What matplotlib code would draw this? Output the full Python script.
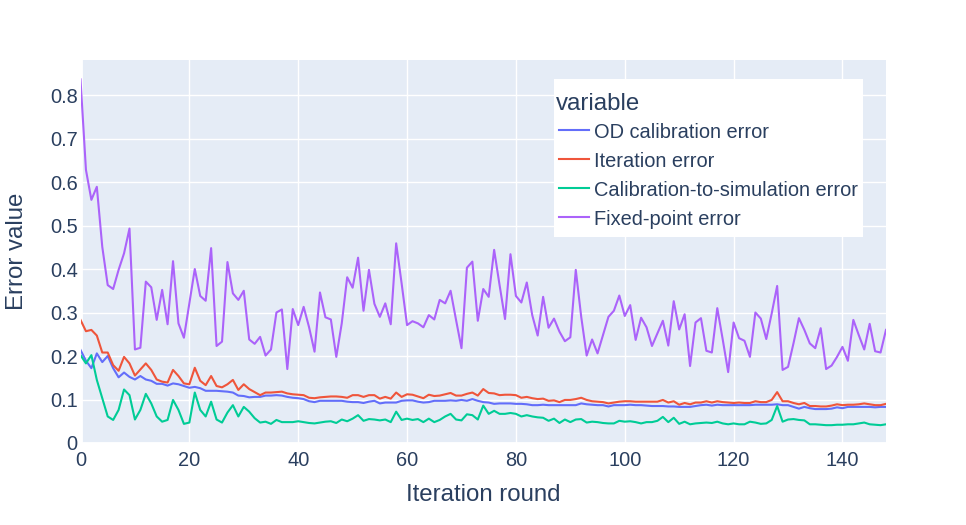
import numpy as np
import matplotlib
matplotlib.use("Agg")
import matplotlib.pyplot as plt
from matplotlib.patches import Rectangle
from matplotlib.lines import Line2D

plt.rcParams['font.family'] = ['Liberation Sans', 'DejaVu Sans']

iterations = np.arange(149)

od_calibration = [
    0.214, 0.189, 0.172, 0.206, 0.186, 0.200, 0.172, 0.151, 0.162, 0.152,
    0.146, 0.154, 0.146, 0.143, 0.136, 0.136, 0.132, 0.137, 0.135, 0.131,
    0.127, 0.129, 0.126, 0.120, 0.120, 0.120, 0.119, 0.118, 0.116, 0.109,
    0.108, 0.105, 0.106, 0.106, 0.109, 0.109, 0.110, 0.109, 0.106, 0.104,
    0.103, 0.101, 0.096, 0.094, 0.097, 0.097, 0.097, 0.097, 0.097, 0.095,
    0.094, 0.094, 0.092, 0.095, 0.097, 0.091, 0.093, 0.093, 0.093, 0.097,
    0.098, 0.098, 0.095, 0.093, 0.094, 0.097, 0.097, 0.097, 0.098, 0.097,
    0.099, 0.097, 0.101, 0.097, 0.094, 0.093, 0.090, 0.091, 0.091, 0.091,
    0.090, 0.090, 0.089, 0.087, 0.087, 0.088, 0.087, 0.087, 0.087, 0.087,
    0.087, 0.087, 0.091, 0.089, 0.088, 0.087, 0.087, 0.084, 0.087, 0.087,
    0.087, 0.088, 0.087, 0.087, 0.086, 0.085, 0.085, 0.085, 0.084, 0.084,
    0.083, 0.083, 0.083, 0.085, 0.087, 0.088, 0.086, 0.088, 0.087, 0.087,
    0.087, 0.087, 0.087, 0.087, 0.088, 0.088, 0.088, 0.088, 0.089, 0.087,
    0.087, 0.083, 0.079, 0.083, 0.080, 0.078, 0.078, 0.078, 0.079, 0.082,
    0.080, 0.083, 0.083, 0.083, 0.083, 0.083, 0.082, 0.083, 0.083,
]

iteration_err = [
    0.283, 0.257, 0.260, 0.247, 0.208, 0.208, 0.179, 0.166, 0.198, 0.183,
    0.155, 0.169, 0.183, 0.168, 0.146, 0.141, 0.139, 0.168, 0.154, 0.137,
    0.135, 0.173, 0.143, 0.133, 0.154, 0.131, 0.128, 0.135, 0.145, 0.122,
    0.135, 0.124, 0.117, 0.110, 0.116, 0.116, 0.117, 0.118, 0.114, 0.112,
    0.111, 0.110, 0.104, 0.103, 0.105, 0.106, 0.107, 0.107, 0.106, 0.104,
    0.110, 0.110, 0.106, 0.110, 0.110, 0.102, 0.106, 0.102, 0.116, 0.106,
    0.112, 0.111, 0.107, 0.103, 0.111, 0.108, 0.109, 0.112, 0.115, 0.109,
    0.109, 0.113, 0.116, 0.109, 0.124, 0.115, 0.114, 0.110, 0.111, 0.111,
    0.110, 0.104, 0.106, 0.103, 0.101, 0.102, 0.097, 0.098, 0.094, 0.099,
    0.099, 0.101, 0.104, 0.099, 0.096, 0.095, 0.094, 0.091, 0.093, 0.095,
    0.096, 0.096, 0.095, 0.095, 0.095, 0.095, 0.095, 0.099, 0.093, 0.096,
    0.088, 0.092, 0.089, 0.093, 0.093, 0.096, 0.093, 0.096, 0.094, 0.093,
    0.092, 0.093, 0.092, 0.092, 0.096, 0.094, 0.094, 0.099, 0.117, 0.096,
    0.096, 0.092, 0.089, 0.092, 0.085, 0.085, 0.084, 0.084, 0.086, 0.089,
    0.087, 0.088, 0.088, 0.089, 0.091, 0.089, 0.087, 0.087, 0.090,
]

cal_to_sim = [
    0.202, 0.183, 0.202, 0.145, 0.103, 0.061, 0.053, 0.076, 0.123, 0.110,
    0.054, 0.076, 0.113, 0.091, 0.061, 0.049, 0.053, 0.099, 0.076, 0.044,
    0.047, 0.116, 0.076, 0.061, 0.095, 0.054, 0.047, 0.070, 0.087, 0.061,
    0.083, 0.072, 0.057, 0.047, 0.049, 0.044, 0.053, 0.048, 0.048, 0.048,
    0.050, 0.048, 0.046, 0.045, 0.047, 0.049, 0.050, 0.046, 0.054, 0.050,
    0.056, 0.064, 0.051, 0.055, 0.054, 0.052, 0.054, 0.048, 0.072, 0.053,
    0.056, 0.053, 0.055, 0.048, 0.056, 0.048, 0.053, 0.061, 0.067, 0.054,
    0.052, 0.066, 0.064, 0.054, 0.086, 0.067, 0.074, 0.067, 0.067, 0.069,
    0.067, 0.061, 0.064, 0.061, 0.059, 0.058, 0.051, 0.056, 0.046, 0.054,
    0.048, 0.054, 0.055, 0.047, 0.049, 0.048, 0.046, 0.045, 0.045, 0.051,
    0.049, 0.050, 0.048, 0.045, 0.048, 0.048, 0.051, 0.060, 0.048, 0.058,
    0.044, 0.049, 0.043, 0.045, 0.046, 0.047, 0.046, 0.049, 0.045, 0.043,
    0.045, 0.043, 0.043, 0.049, 0.047, 0.044, 0.045, 0.053, 0.085, 0.049,
    0.054, 0.055, 0.053, 0.052, 0.043, 0.043, 0.042, 0.041, 0.041, 0.042,
    0.042, 0.043, 0.043, 0.045, 0.047, 0.043, 0.042, 0.041, 0.043,
]

fixed_point = [
    0.836, 0.628, 0.559, 0.589, 0.451, 0.363, 0.354, 0.398, 0.436, 0.493,
    0.215, 0.219, 0.371, 0.358, 0.283, 0.352, 0.273, 0.418, 0.275, 0.242,
    0.321, 0.400, 0.338, 0.327, 0.448, 0.223, 0.233, 0.416, 0.344, 0.329,
    0.350, 0.238, 0.228, 0.244, 0.201, 0.215, 0.300, 0.307, 0.170, 0.308,
    0.271, 0.313, 0.266, 0.210, 0.346, 0.289, 0.284, 0.198, 0.275, 0.381,
    0.357, 0.426, 0.304, 0.398, 0.320, 0.290, 0.321, 0.273, 0.459, 0.367,
    0.271, 0.280, 0.275, 0.266, 0.294, 0.284, 0.329, 0.321, 0.350, 0.283,
    0.218, 0.403, 0.417, 0.281, 0.354, 0.336, 0.444, 0.363, 0.285, 0.434,
    0.338, 0.323, 0.369, 0.294, 0.247, 0.336, 0.265, 0.286, 0.256, 0.234,
    0.243, 0.398, 0.290, 0.201, 0.238, 0.206, 0.248, 0.290, 0.304, 0.339,
    0.292, 0.317, 0.237, 0.288, 0.266, 0.223, 0.252, 0.281, 0.224, 0.326,
    0.261, 0.296, 0.177, 0.277, 0.287, 0.212, 0.208, 0.310, 0.238, 0.163,
    0.277, 0.241, 0.235, 0.198, 0.300, 0.286, 0.239, 0.298, 0.361, 0.168,
    0.175, 0.229, 0.287, 0.260, 0.229, 0.218, 0.264, 0.170, 0.178, 0.198,
    0.221, 0.189, 0.283, 0.248, 0.215, 0.274, 0.211, 0.208, 0.260,
]

series = [
    ("OD calibration error", od_calibration, "#636EFA"),
    ("Iteration error", iteration_err, "#EF553B"),
    ("Calibration-to-simulation error", cal_to_sim, "#00CC96"),
    ("Fixed-point error", fixed_point, "#AB63FA"),
]

text_col = "#2a3f5f"
W, H = 966, 525

fig = plt.figure(figsize=(9.66, 5.25), dpi=100)
ax = fig.add_axes([80.5 / W, 82 / H, 805.5 / W, 383 / H])
ax.set_facecolor("#E5ECF6")

for name, vals, col in series:
    ax.plot(iterations, vals, color=col, lw=1.5, label=name, solid_joinstyle="round")

ax.set_xlim(0, 148)
ax.set_ylim(0, 0.8805)
ax.set_xticks(np.arange(0, 141, 20))
ax.set_yticks(np.arange(0, 0.81, 0.1))
ax.set_yticklabels(["0", "0.1", "0.2", "0.3", "0.4", "0.5", "0.6", "0.7", "0.8"])
ax.grid(True, color="white", lw=1)
ax.set_axisbelow(True)
for s in ax.spines.values():
    s.set_visible(False)
ax.axhline(0, color="white", lw=2, zorder=1)
ax.axvline(0, color="white", lw=2, zorder=1)
ax.tick_params(length=0, labelsize=14.4, labelcolor=text_col)
ax.tick_params(axis="x", pad=6)
ax.tick_params(axis="y", pad=2)

ax.set_xlabel("Iteration round", fontsize=17.3, color=text_col, labelpad=10)
ax.set_ylabel("Error value", fontsize=17.3, color=text_col, labelpad=16)

# legend box, drawn by hand in figure pixel positions (plotly style)
def fx(px):
    return px / W

def fy(py):
    return 1 - py / H

fig.add_artist(Rectangle((fx(554), fy(237)), (863 - 554) / W, (237 - 79) / H,
                         transform=fig.transFigure, facecolor="white",
                         edgecolor="none", zorder=5))
fig.text(fx(556), fy(110), "variable", fontsize=17.3, color=text_col,
         va="baseline", ha="left", zorder=6)
line_y = [130, 159, 188, 217]
text_base = [138, 167, 196, 225]
for (name, vals, col), ly, tb in zip(series, line_y, text_base):
    fig.add_artist(Line2D([fx(559), fx(589)], [fy(ly), fy(ly)], color=col, lw=1.5,
                          transform=fig.transFigure, zorder=6))
    fig.text(fx(594), fy(tb), name, fontsize=14.4, color=text_col,
             va="baseline", ha="left", zorder=6)

fig.savefig("out.png", dpi=100, facecolor="white")
